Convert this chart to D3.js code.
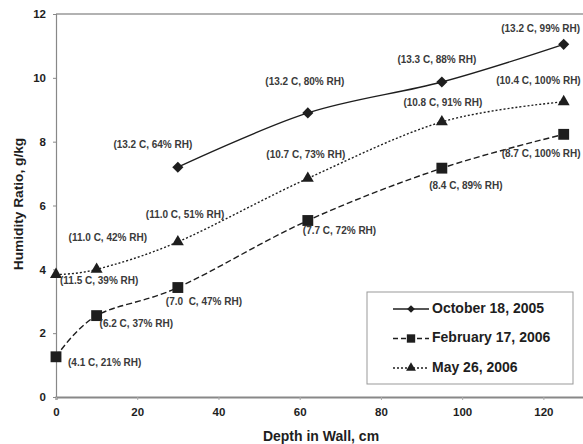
<!DOCTYPE html>
<html>
<head>
<meta charset="utf-8">
<script src="https://cdn.jsdelivr.net/npm/d3@7"></script>
<style>
  html, body { margin: 0; padding: 0; background: #fff; }
  svg { display: block; font-family: "Liberation Sans", Arial, sans-serif; }
</style>
</head>
<body>
<svg id="chart" width="583" height="444"></svg>
<script>
// Depth positions (cm) and humidity ratio (g/kg) for each survey date
const octDepth = [30, 62, 95, 125];
const octValues = [7.2, 8.9, 9.87, 11.05];
const octLabels = ["(13.2 C, 64% RH)", "(13.2 C, 80% RH)", "(13.3 C, 88% RH)", "(13.2 C, 99% RH)"];

const febDepth = [0, 10, 30, 62, 95, 125];
const febValues = [1.26, 2.55, 3.43, 5.53, 7.17, 8.23];
const febLabels = ["(4.1 C, 21% RH)", "(6.2 C, 37% RH)", "(7.0  C, 47% RH)", "(7.7 C, 72% RH)", "(8.4 C, 89% RH)", "(8.7 C, 100% RH)"];

const mayDepth = [0, 10, 30, 62, 95, 125];
const mayValues = [3.84, 4.0, 4.86, 6.85, 8.62, 9.25];
const mayLabels = ["(11.5 C, 39% RH)", "(11.0 C, 42% RH)", "(11.0 C, 51% RH)", "(10.7 C, 73% RH)", "(10.8 C, 91% RH)", "(10.4 C, 100% RH)"];

const seriesNames = ["October 18, 2005", "February 17, 2006", "May 26, 2006"];
const xTicks = [0, 20, 40, 60, 80, 100, 120];
const yTicks = [0, 2, 4, 6, 8, 10, 12];

const svg = d3.select("#chart");
const ink = "#1e1e1e";

const x = d3.scaleLinear().domain([0, 130]).range([56, 584]);
const y = d3.scaleLinear().domain([0, 12]).range([397, 14]);

// Plot frame: top border, then axes
svg.append("line").attr("x1", x(0)).attr("x2", 583).attr("y1", y(12)).attr("y2", y(12))
  .attr("stroke", "#999").attr("stroke-width", 1.5);

const yAxis = svg.append("g").attr("transform", `translate(${x(0)},0)`)
  .call(d3.axisLeft(y).tickValues(yTicks).tickSize(3).tickFormat(d3.format("d")));
yAxis.select(".domain").attr("stroke", "#888").attr("stroke-width", 1.2);
yAxis.selectAll(".tick line").attr("stroke", "#888");
yAxis.selectAll(".tick text").attr("x", -10).attr("font-size", 11.5).attr("font-weight", "bold").attr("fill", ink);

const xAxis = svg.append("g").attr("transform", `translate(0,${y(0)})`)
  .call(d3.axisBottom(x).tickValues(xTicks).tickSize(3).tickFormat(d3.format("d")));
xAxis.select(".domain").attr("stroke", "#888").attr("stroke-width", 2.2);
xAxis.selectAll(".tick line").attr("stroke", "#aaa");
xAxis.selectAll(".tick text").attr("y", 11).attr("font-size", 11.5).attr("font-weight", "bold").attr("fill", ink);

svg.append("text").attr("x", 321).attr("y", 441).attr("text-anchor", "middle")
  .attr("font-size", 14).attr("font-weight", "bold").attr("fill", ink).text("Depth in Wall, cm");
svg.append("text").attr("transform", "translate(23,204) rotate(-90)").attr("text-anchor", "middle")
  .attr("font-size", 13.7).attr("font-weight", "bold").attr("fill", ink).text("Humidity Ratio, g/kg");

const line = d3.line().x(d => x(d[0])).y(d => y(d[1])).curve(d3.curveCardinal.tension(0));

const series = [
  { depth: octDepth, values: octValues, dash: null, symbol: d3.symbolSquare, rotate: 45, size: 62, legendSize: 30 },
  { depth: febDepth, values: febValues, dash: "6,3", symbol: d3.symbolSquare, rotate: 0, size: 118, legendSize: 70 },
  { depth: mayDepth, values: mayValues, dash: "2,2", symbol: d3.symbolTriangle, rotate: 0, size: 62, legendSize: 42 }
];

series.forEach(s => {
  const pts = s.depth.map((d, i) => [d, s.values[i]]);
  svg.append("path").attr("d", line(pts)).attr("fill", "none").attr("stroke", ink)
    .attr("stroke-width", 1.4).attr("stroke-dasharray", s.dash);
  svg.selectAll(null).data(pts).enter().append("path")
    .attr("transform", d => `translate(${x(d[0])},${y(d[1])}) rotate(${s.rotate})`)
    .attr("d", d3.symbol().type(s.symbol).size(s.size)).attr("fill", ink);
});

// Temperature / relative humidity annotations, placed as offsets from each point
const labelStyle = sel => sel.attr("font-size", 10).attr("font-weight", "bold").attr("fill", "#3a3a3a")
  .attr("dominant-baseline", "middle").style("white-space", "pre");
function annotate(depth, values, labels, offsets) {
  labels.forEach((t, i) => {
    const o = offsets[i];
    svg.append("text").attr("x", x(depth[i]) + o[0]).attr("y", y(values[i]) + o[1])
      .attr("text-anchor", o[2]).call(labelStyle).text(t);
  });
}
annotate(octDepth, octValues, octLabels, [[-25, -22, "middle"], [-3, -31, "middle"], [-5, -22, "middle"], [-23, -15, "middle"]]);
annotate(febDepth, febValues, febLabels, [[12, 7, "start"], [3, 9, "start"], [-12, 15, "start"], [-5, 11, "start"], [24, 18, "middle"], [-62, 20, "start"]]);
annotate(mayDepth, mayValues, mayLabels, [[4, 7, "start"], [-28, -31, "start"], [-32, -27, "start"], [-2, -23, "middle"], [1, -19, "middle"], [17, -20, "end"]]);

// Legend
const lg = svg.append("g");
lg.append("rect").attr("x", 367).attr("y", 292).attr("width", 206).attr("height", 92)
  .attr("fill", "#fff").attr("stroke", "#999").attr("stroke-width", 1);
const legendY = [309, 338.5, 368];
seriesNames.forEach((name, i) => {
  const s = series[i];
  lg.append("line").attr("x1", 393).attr("x2", 429).attr("y1", legendY[i]).attr("y2", legendY[i])
    .attr("stroke", ink).attr("stroke-width", 1.3).attr("stroke-dasharray", i === 1 ? "5,3" : s.dash);
  lg.append("path").attr("transform", `translate(411,${legendY[i]}) rotate(${s.rotate})`)
    .attr("d", d3.symbol().type(s.symbol).size(s.legendSize)).attr("fill", ink);
  lg.append("text").attr("x", 432).attr("y", legendY[i]).attr("dominant-baseline", "middle")
    .attr("font-size", 14).attr("font-weight", "bold").attr("fill", ink).text(name);
});
</script>
</body>
</html>
